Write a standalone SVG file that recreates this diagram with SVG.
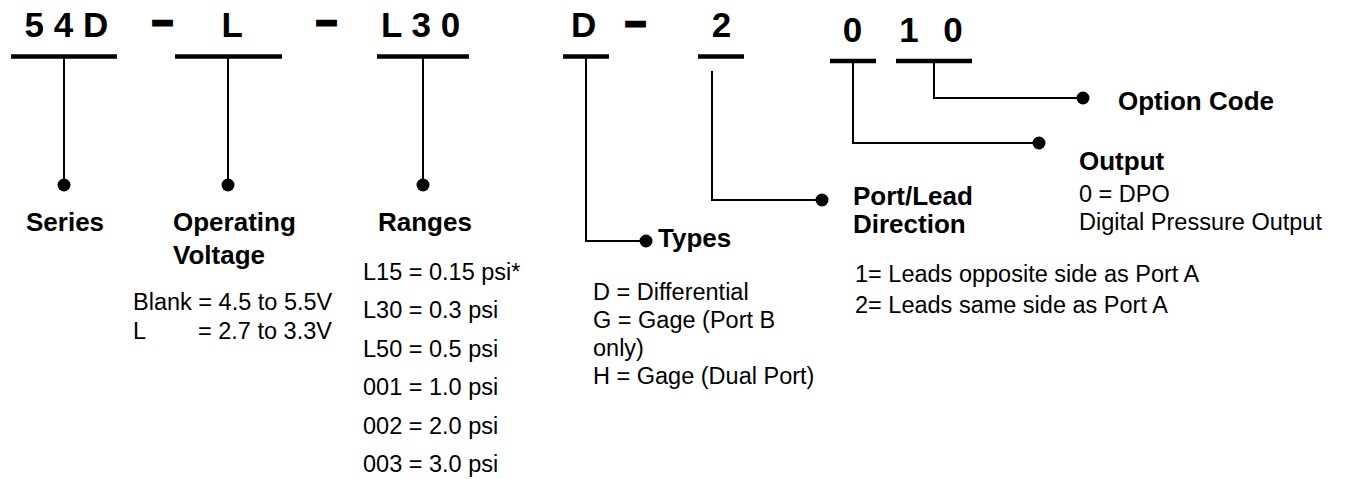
<svg xmlns="http://www.w3.org/2000/svg" width="1349" height="479" viewBox="0 0 1349 479">
<style>
.code{font-family:"Liberation Sans",Arial,sans-serif;font-weight:bold;font-size:35px;fill:#000}
.dash{font-family:"Liberation Sans",Arial,sans-serif;font-weight:bold;font-size:36px;fill:#000;stroke:#000;stroke-width:3}
.lbl{font-family:"Liberation Sans",Arial,sans-serif;font-weight:bold;font-size:26px;fill:#000}
.txt{font-family:"Liberation Sans",Arial,sans-serif;font-size:23.5px;fill:#000}
.ul{stroke:#000;stroke-width:4.3;fill:none}
.ln{stroke:#000;stroke-width:2;fill:none}
.dot{fill:#000}
</style>
<rect width="1349" height="479" fill="#fff"/>
<g id="code">
<text class="code" x="24.5" y="37">5 4 D</text>
<text class="dash" x="152.5" y="33">–</text>
<text class="code" x="221.5" y="37">L</text>
<text class="dash" x="316.5" y="33">–</text>
<text class="code" x="381" y="37">L 3 0</text>
<text class="code" x="571" y="37">D</text>
<text class="dash" x="625.5" y="33.5">–</text>
<text class="code" x="721.5" y="37" text-anchor="middle">2</text>
<text class="code" x="852.5" y="42" text-anchor="middle">0</text>
<text class="code" x="909" y="42" text-anchor="middle">1</text>
<text class="code" x="953" y="42" text-anchor="middle">0</text>
</g>
<g id="connectors">
<line class="ul" x1="11" y1="56.5" x2="117" y2="56.5"/>
<line class="ul" x1="175" y1="56.5" x2="282" y2="56.5"/>
<line class="ul" x1="377" y1="56.5" x2="469" y2="56.5"/>
<line class="ul" x1="563" y1="56.5" x2="609" y2="56.5"/>
<line class="ul" x1="698" y1="56.5" x2="744" y2="56.5"/>
<line class="ul" x1="830" y1="61" x2="876" y2="61"/>
<line class="ul" x1="896" y1="61" x2="972" y2="61"/>
<line class="ln" x1="64" y1="57" x2="64" y2="185"/>
<line class="ln" x1="228" y1="57" x2="228" y2="185"/>
<line class="ln" x1="423" y1="57" x2="423" y2="185"/>
<polyline class="ln" points="586,57 586,241 646,241"/>
<polyline class="ln" points="712,71 712,200 822,200"/>
<polyline class="ln" points="853,61 853,143 1039,143"/>
<polyline class="ln" points="934,61 934,98 1083,98"/>
<circle class="dot" cx="64" cy="185" r="6.5"/>
<circle class="dot" cx="228" cy="185" r="6.5"/>
<circle class="dot" cx="423" cy="185" r="6.5"/>
<circle class="dot" cx="646" cy="241" r="6.5"/>
<circle class="dot" cx="822" cy="200" r="6.5"/>
<circle class="dot" cx="1039" cy="143" r="6.5"/>
<circle class="dot" cx="1083" cy="98" r="6.5"/>
</g>
<g id="series">
<text class="lbl" x="26" y="231">Series</text>
</g>
<g id="voltage">
<text class="lbl" x="173" y="231">Operating</text>
<text class="lbl" x="173" y="264">Voltage</text>
<text class="txt" x="133" y="310">Blank = 4.5 to 5.5V</text>
<text class="txt" x="133" y="339">L</text>
<text class="txt" x="198" y="339">= 2.7 to 3.3V</text>
</g>
<g id="ranges">
<text class="lbl" x="378" y="231">Ranges</text>
<text class="txt" x="363" y="280">L15 = 0.15 psi*</text>
<text class="txt" x="363" y="318">L30 = 0.3 psi</text>
<text class="txt" x="363" y="356.5">L50 = 0.5 psi</text>
<text class="txt" x="363" y="395">001 = 1.0 psi</text>
<text class="txt" x="363" y="433.5">002 = 2.0 psi</text>
<text class="txt" x="363" y="472">003 = 3.0 psi</text>
</g>
<g id="types">
<text class="lbl" x="658" y="247">Types</text>
<text class="txt" x="593" y="300">D = Differential</text>
<text class="txt" x="593" y="328">G = Gage (Port B</text>
<text class="txt" x="593" y="356">only)</text>
<text class="txt" x="593" y="383.5">H = Gage (Dual Port)</text>
</g>
<g id="portlead">
<text class="lbl" x="853" y="205">Port/Lead</text>
<text class="lbl" x="853" y="233">Direction</text>
<text class="txt" x="855" y="282">1= Leads opposite side as Port A</text>
<text class="txt" x="855" y="313">2= Leads same side as Port A</text>
</g>
<g id="output">
<text class="lbl" x="1079" y="170">Output</text>
<text class="txt" x="1079" y="202">0 = DPO</text>
<text class="txt" x="1079" y="230">Digital Pressure Output</text>
</g>
<g id="option">
<text class="lbl" x="1118" y="110">Option Code</text>
</g>
</svg>
